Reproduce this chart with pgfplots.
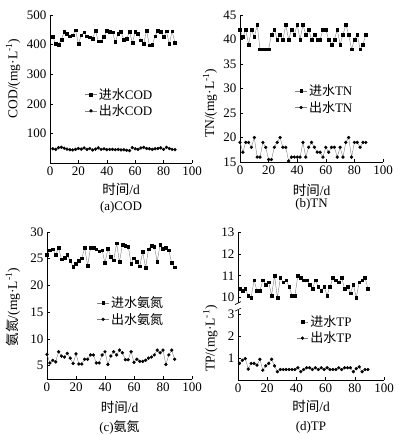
\documentclass[border=0pt]{standalone}
\usepackage{fontspec}
\setmainfont{Liberation Serif}
\newfontfamily\cjk{Noto Sans CJK SC}
\usepackage{pgfplots}
\pgfplotsset{compat=1.18}
\pgfplotsset{
  panel/.style={
    scale only axis,
    axis lines=left,
    axis line style={-, line width=0.6pt},
    tick align=inside,
    major tick length=3pt,
    tick style={black, line width=0.6pt},
    xmin=0, xmax=100,
    xtick={0,20,...,100},
    /pgf/number format/assume math mode=true,
    ticklabel style={font=\fontsize{13}{13}\selectfont},
    label style={font=\fontsize{13.5}{15}\selectfont},
    legend style={draw=none, fill=none, font=\fontsize{13}{15}\selectfont, anchor=north west, inner sep=0pt},
    legend cell align=left,
    legend image code/.code={\draw[mark repeat=2,mark phase=2] plot coordinates {(0cm,0cm) (0.2cm,0cm) (0.4cm,0cm)};},
    clip=false,
    xlabel={{\cjk 时间}/d},
  },
  inflow/.style={gray, line width=0.4pt, mark=square*, mark size=1.35pt, mark options={black, solid}},
  outflow/.style={gray, line width=0.4pt, mark=*, mark size=1.45pt, mark options={black, solid}},
}
\begin{document}
\begin{tikzpicture}
\path[use as bounding box] (0,0) rectangle (398pt,-435pt);
% ---------------- (a) COD
\begin{axis}[panel, at={(50pt,-163pt)}, anchor=south west, width=142pt, height=148pt,
  ymin=0, ymax=500, ytick={100,200,300,400,500},
  ylabel={COD/(mg·L\textsuperscript{-1})},
  ylabel style={at={(axis description cs:-0.26,0.57)}, anchor=center},
  xlabel style={at={(axis description cs:0.5,-0.18)}, anchor=center},
  legend style={at={(0.246,0.52)}}]
\addplot[inflow] coordinates {
(2,426)(4,402)(6,400)(8,417)(10,443)(12,437)(14,428)(16,432)(18,449)(20,402)
(22,432)(24,442)(26,428)(28,425)(30,420)(32,448)(34,411)(36,411)(38,426)(40,448)
(42,443)(44,442)(46,409)(48,437)(50,443)(52,417)(54,420)(56,443)(58,406)(60,443)
(62,437)(64,415)(66,402)(68,448)(70,398)(72,400)(74,428)(76,448)(78,443)(80,426)
(82,445)(84,402)(86,445)(88,406)};
\addlegendentry{{\cjk 进水}COD}
\addplot[outflow] coordinates {
(2,48)(4,46)(6,52)(8,53)(10,50)(12,47)(14,45)(16,44)(18,46)(20,49)
(22,47)(24,51)(26,46)(28,49)(30,44)(32,47)(34,51)(36,46)(38,48)(40,45)
(42,46)(44,46)(46,45)(48,46)(50,44)(52,45)(54,43)(56,42)(58,52)(60,48)
(62,46)(64,51)(66,53)(68,49)(70,48)(72,46)(74,48)(76,49)(78,51)(80,46)
(82,53)(84,49)(86,46)(88,45)};
\addlegendentry{{\cjk 出水}COD}
\node[font=\fontsize{13}{15}\selectfont] at (axis description cs:0.5,-0.297) {(a)COD};
\end{axis}
% ---------------- (b) TN
\begin{axis}[panel, at={(240pt,-162pt)}, anchor=south west, width=143pt, height=147pt,
  ymin=15, ymax=45, ytick={15,20,...,45},
  ylabel={TN/(mg·L\textsuperscript{-1})},
  ylabel style={at={(axis description cs:-0.21,0.40)}, anchor=center},
  xlabel style={at={(axis description cs:0.5,-0.19)}, anchor=center},
  legend style={at={(0.385,0.54)}}]
\addplot[inflow] coordinates {
(0,42)(2,40.5)(4,42)(6,39)(8,42)(10,40.5)(12,43)(14,38)(16,38)(18,38)
(20,38)(22,41)(24,42)(26,40)(28,41)(30,40)(32,43)(34,40)(36,42)(38,41)
(40,43)(42,40)(44,43)(46,41)(48,42)(50,40)(52,41)(54,40)(56,40)(58,42)
(60,42)(62,40)(64,39)(66,40)(68,42)(70,39)(72,41)(74,43)(76,41)(78,38)
(80,40)(82,41)(84,38)(86,39)(88,41)};
\addlegendentry{{\cjk 进水}TN}
\addplot[outflow] coordinates {
(0,19)(2,17)(4,19)(6,19)(8,18)(10,20)(12,16)(14,16)(16,19)(18,18)
(20,15.5)(22,15.5)(24,18)(26,19)(28,20)(30,18)(32,18)(34,15.2)(36,16)(38,16)
(40,16)(42,16)(44,19)(46,16)(48,18)(50,19)(52,18)(54,17)(56,17)(58,16)
(60,18)(62,17)(64,18)(66,18)(68,16)(70,18)(72,16)(74,19)(76,20)(78,16)
(80,19)(82,19)(84,18)(86,19)(88,19)};
\addlegendentry{{\cjk 出水}TN}
\node[font=\fontsize{13}{15}\selectfont] at (axis description cs:0.5,-0.29) {(b)TN};
\end{axis}
% ---------------- (c) NH3-N
\begin{axis}[panel, at={(47pt,-379pt)}, anchor=south west, width=145pt, height=147pt,
  ymin=2.5, ymax=30, ytick={5,10,...,30},
  ylabel={{\cjk 氨氮}/(mg·L\textsuperscript{-1})},
  ylabel style={at={(axis description cs:-0.235,0.49)}, anchor=center},
  xlabel style={at={(axis description cs:0.5,-0.19)}, anchor=center},
  legend style={at={(0.345,0.575)}}]
\addplot[inflow] coordinates {
(0,25.7)(2,26.6)(4,26.8)(6,25.8)(8,27)(10,24.9)(12,25.2)(14,25.7)(16,24.6)(18,23.5)
(20,24.1)(22,24.6)(24,25.1)(26,27)(28,23.7)(30,27)(32,27.1)(34,26.8)(36,26.4)(38,26.6)
(40,24.2)(42,26.9)(44,25.4)(46,24.7)(48,27.9)(50,24.4)(52,27.6)(54,27.5)(56,27.3)(58,24.1)
(60,25.1)(62,24.4)(64,23.6)(66,26.3)(68,23.3)(70,26.8)(72,27.4)(74,27.3)(76,24.5)(78,27.6)
(80,26.9)(82,27.1)(84,26.6)(86,24.2)(88,23.4)};
\addlegendentry{{\cjk 进水氨氮}}
\addplot[outflow] coordinates {
(0,7.1)(2,5.5)(4,6)(6,5.7)(8,7.6)(10,6.8)(12,6.6)(14,7.3)(16,6.4)(18,5.4)
(20,7.2)(22,5.3)(24,5.3)(26,6.2)(28,6.2)(30,7)(32,7)(34,5.5)(36,5.5)(38,7)
(40,7.6)(42,5.2)(44,6.8)(46,7.6)(48,7)(50,7.9)(52,7.4)(54,6.1)(56,6.1)(58,7.6)
(60,5.6)(62,6.2)(64,5.8)(66,5.8)(68,6)(70,6.4)(72,6.6)(74,7)(76,7.9)(78,7.4)
(80,7.9)(82,5.2)(84,7)(86,7.9)(88,6.2)};
\addlegendentry{{\cjk 出水氨氮}}
\node[font=\fontsize{13}{15}\selectfont] at (axis description cs:0.5,-0.327) {(c){\cjk 氨氮}};
\end{axis}
% ---------------- (d) TP (broken axis: values >= 10 shifted down by 6.23)
\begin{axis}[panel, at={(238pt,-380pt)}, anchor=south west, width=146pt, height=148pt,
  ymin=0, ymax=6.77, ytick={1,2,3,3.77,4.77,5.77,6.77}, yticklabels={1,2,3,10,11,12,13},
  ylabel={TP/(mg·L\textsuperscript{-1})},
  ylabel style={at={(axis description cs:-0.19,0.28)}, anchor=center},
  xlabel style={at={(axis description cs:0.5,-0.18)}, anchor=center},
  legend style={at={(0.40,0.45)}}]
\addplot[inflow, y filter/.expression={y-6.23}] coordinates {
(1,10.4)(3,10.3)(5,10.4)(7,10.1)(9,10.0)(11,10.8)(13,10.3)(15,10.3)(17,10.8)(19,10.6)
(21,10.7)(23,10.1)(25,11.0)(27,10.0)(29,10.9)(31,10.7)(33,10.8)(35,10.5)(37,10.1)(39,10.1)
(41,11.0)(43,10.9)(45,10.8)(47,10.8)(49,10.6)(51,10.4)(53,10.8)(55,10.5)(57,10.3)(59,10.5)
(61,10.1)(63,10.5)(65,10.9)(67,10.8)(69,10.7)(71,10.9)(73,10.4)(75,10.5)(77,10.2)(79,10.6)
(81,10.0)(83,10.7)(85,10.8)(87,10.9)(89,10.4)};
\addlegendentry{{\cjk 进水}TP}
\addplot[outflow] coordinates {
(1,0.76)(3,0.9)(5,0.98)(7,0.5)(9,0.76)(11,0.76)(13,0.68)(15,0.95)(17,0.45)(19,0.65)
(21,0.76)(23,0.95)(25,0.65)(27,0.38)(29,0.48)(31,0.48)(33,0.48)(35,0.48)(37,0.48)(39,0.48)
(41,0.56)(43,0.38)(45,0.48)(47,0.56)(49,0.56)(51,0.48)(53,0.56)(55,0.48)(57,0.56)(59,0.48)
(61,0.56)(63,0.48)(65,0.48)(67,0.48)(69,0.56)(71,0.48)(73,0.56)(75,0.56)(77,0.56)(79,0.38)
(81,0.52)(83,0.6)(85,0.38)(87,0.48)(89,0.48)};
\addlegendentry{{\cjk 出水}TP}
\coordinate (brkA) at (axis cs:0,3.22);
\coordinate (brkB) at (axis cs:0,3.52);
\node[font=\fontsize{13}{15}\selectfont] at (axis description cs:0.5,-0.318) {(d)TP};
\end{axis}
\fill[white] ([xshift=-3pt]brkA) rectangle ([xshift=3pt]brkB);
\draw[line width=0.6pt] ([xshift=-3pt,yshift=-1.5pt]brkA) -- ([xshift=3pt,yshift=1.5pt]brkA);
\draw[line width=0.6pt] ([xshift=-3pt,yshift=-1.5pt]brkB) -- ([xshift=3pt,yshift=1.5pt]brkB);
\end{tikzpicture}
\end{document}
